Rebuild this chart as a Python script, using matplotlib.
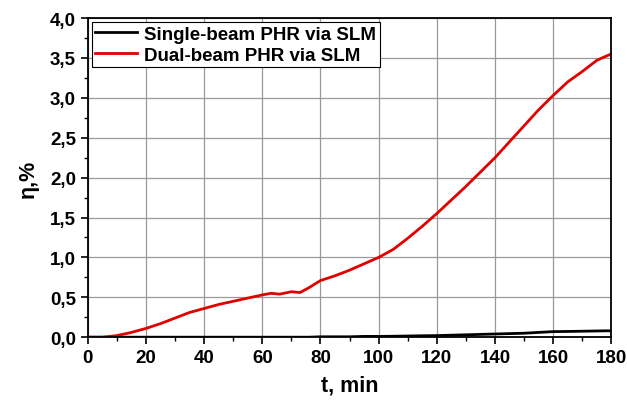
import matplotlib.pyplot as plt
from matplotlib.ticker import MultipleLocator, FuncFormatter

plt.rcParams['font.family'] = ['Liberation Sans', 'DejaVu Sans']
plt.rcParams['font.weight'] = 'bold'

t = [0, 5, 10, 15, 20, 25, 30, 35, 40, 45, 50, 55, 60, 63, 66, 70, 73, 76,
     80, 85, 90, 95, 100, 105, 110, 115, 120, 125, 130, 135, 140, 145, 150,
     155, 160, 165, 170, 175, 178, 180]
dual = [0.0, 0.0, 0.02, 0.06, 0.11, 0.17, 0.24, 0.31, 0.36, 0.41, 0.45, 0.49,
        0.53, 0.55, 0.54, 0.57, 0.56, 0.62, 0.71, 0.77, 0.84, 0.92, 1.0, 1.1,
        1.24, 1.39, 1.55, 1.72, 1.89, 2.07, 2.25, 2.45, 2.65, 2.85, 3.03, 3.2,
        3.33, 3.47, 3.52, 3.55]
single = [0.0, 0.0, 0.0, 0.0, 0.0, 0.0, 0.0, 0.0, 0.0, 0.0, 0.0, 0.0, 0.0,
          0.0, 0.0, 0.0, 0.0, 0.0, 0.005, 0.005, 0.005, 0.01, 0.01, 0.012,
          0.015, 0.018, 0.02, 0.025, 0.03, 0.035, 0.04, 0.045, 0.05, 0.06,
          0.07, 0.072, 0.075, 0.078, 0.08, 0.08]

fig = plt.figure(figsize=(6.27, 4.06), dpi=100)
ax = fig.add_axes([0.14, 0.167, 0.835, 0.786])

ax.plot(t, single, color='black', lw=2, label='Single-beam PHR via SLM')
ax.plot(t, dual, color='#e00000', lw=2, label='Dual-beam PHR via SLM')

ax.set_xlim(0, 180)
ax.set_ylim(0, 4.0)
ax.xaxis.set_major_locator(MultipleLocator(20))
ax.xaxis.set_minor_locator(MultipleLocator(10))
ax.yaxis.set_major_locator(MultipleLocator(0.5))
ax.yaxis.set_minor_locator(MultipleLocator(0.25))
ax.yaxis.set_major_formatter(FuncFormatter(lambda v, p: f'{v:.1f}'.replace('.', ',')))
ax.tick_params(which='major', direction='out', length=5, width=1.2, labelsize=13.5)
ax.tick_params(which='minor', direction='out', length=3, width=1.0)
ax.grid(True, which='major', color='#999999', lw=0.9)
for s in ax.spines.values():
    s.set_linewidth(1.3)

ax.set_xlabel('t, min', fontsize=15.5, fontweight='bold', labelpad=6)
ax.set_ylabel('η,%', fontsize=15.5, fontweight='bold', labelpad=8)

leg = ax.legend(loc='upper left', fontsize=13.5, handlelength=2.2, fancybox=False,
                edgecolor='black', framealpha=1, borderaxespad=0.2,
                borderpad=0.2, labelspacing=0.2, handletextpad=0.4)
leg.get_frame().set_linewidth(0.8)

fig.savefig('out.png', dpi=100)
